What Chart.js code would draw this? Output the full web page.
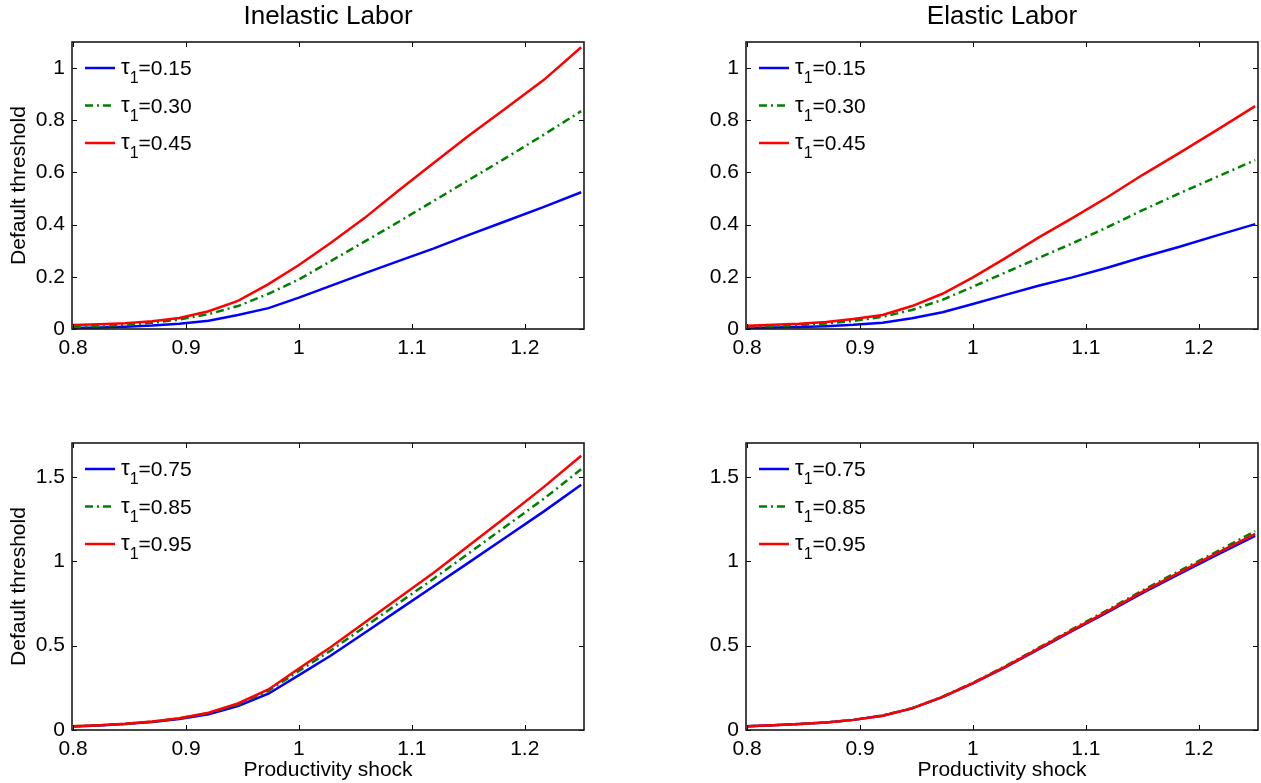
<!DOCTYPE html>
<html>
<head>
<meta charset="utf-8">
<script src="https://cdn.jsdelivr.net/npm/chart.js@4/dist/chart.umd.min.js"></script>
<style>
  body { margin: 0; background: #fff; width: 1261px; height: 783px; overflow: hidden; }
  canvas { position: absolute; }
</style>
</head>
<body>
<canvas id="tl" style="left:0;top:0;" width="587" height="370"></canvas>
<canvas id="tr" style="left:674px;top:0;" width="587" height="370"></canvas>
<canvas id="bl" style="left:0;top:401px;" width="587" height="382"></canvas>
<canvas id="br" style="left:674px;top:401px;" width="587" height="382"></canvas>
<script>
// productivity shock grid
const xGrid = [0.8, 0.823, 0.846, 0.870, 0.894, 0.920, 0.946, 0.973, 1.0, 1.028, 1.058, 1.088, 1.119, 1.150, 1.183, 1.217, 1.25];
const xTicks = [0.8, 0.9, 1, 1.1, 1.2];
const yTicksTop = [0, 0.2, 0.4, 0.6, 0.8, 1];
const yTicksBottom = [0, 0.5, 1, 1.5];

const labelsTop = ['0.15', '0.30', '0.45'];
const labelsBottom = ['0.75', '0.85', '0.95'];

// inelastic labor, low taxes
const inel015 = [0.004, 0.006, 0.009, 0.013, 0.020, 0.032, 0.054, 0.080, 0.120, 0.165, 0.213, 0.260, 0.308, 0.360, 0.413, 0.468, 0.524];
const inel030 = [0.008, 0.011, 0.016, 0.024, 0.036, 0.057, 0.088, 0.135, 0.190, 0.260, 0.335, 0.410, 0.490, 0.570, 0.655, 0.745, 0.835];
const inel045 = [0.015, 0.018, 0.022, 0.030, 0.042, 0.068, 0.108, 0.172, 0.245, 0.330, 0.425, 0.530, 0.635, 0.740, 0.845, 0.955, 1.080];
// elastic labor, low taxes
const el015 = [0.004, 0.006, 0.008, 0.011, 0.016, 0.024, 0.041, 0.064, 0.096, 0.130, 0.166, 0.198, 0.235, 0.275, 0.315, 0.360, 0.402];
const el030 = [0.008, 0.011, 0.015, 0.021, 0.031, 0.047, 0.073, 0.112, 0.162, 0.215, 0.272, 0.328, 0.390, 0.455, 0.520, 0.585, 0.647];
const el045 = [0.012, 0.016, 0.020, 0.027, 0.038, 0.054, 0.088, 0.135, 0.198, 0.270, 0.350, 0.425, 0.505, 0.590, 0.675, 0.765, 0.854];
// inelastic labor, high taxes
const inel075 = [0.021, 0.027, 0.035, 0.047, 0.065, 0.093, 0.142, 0.215, 0.325, 0.440, 0.575, 0.710, 0.850, 0.990, 1.140, 1.295, 1.453];
const inel085 = [0.022, 0.028, 0.036, 0.049, 0.068, 0.100, 0.150, 0.232, 0.350, 0.470, 0.610, 0.750, 0.895, 1.045, 1.205, 1.370, 1.545];
const inel095 = [0.022, 0.028, 0.037, 0.050, 0.069, 0.102, 0.157, 0.240, 0.364, 0.490, 0.635, 0.780, 0.930, 1.090, 1.260, 1.440, 1.624];
// elastic labor, high taxes
const el075 = [0.022, 0.028, 0.035, 0.045, 0.060, 0.085, 0.128, 0.195, 0.276, 0.370, 0.478, 0.587, 0.696, 0.810, 0.925, 1.040, 1.150];
const el085 = [0.022, 0.028, 0.035, 0.045, 0.060, 0.086, 0.129, 0.197, 0.280, 0.376, 0.486, 0.597, 0.710, 0.826, 0.943, 1.060, 1.178];
const el095 = [0.022, 0.028, 0.035, 0.045, 0.060, 0.085, 0.128, 0.196, 0.278, 0.373, 0.482, 0.592, 0.703, 0.818, 0.934, 1.050, 1.162];

const FONT = '"Liberation Sans", Arial, Helvetica, sans-serif';
const colors = ['#0000ff', '#008000', '#ff0000'];
const dashes = [[], [8, 4, 2, 4], []];

function toPoints(vals) {
    return vals.map((v, i) => ({ x: xGrid[i], y: v }));
}

// MATLAB-ish box with inward ticks, legend and title
const boxPlugin = {
    id: 'box',
    afterDatasetsDraw(chart) {
        const { ctx, chartArea: a, scales } = chart;
        const o = chart.options.plugins.box;
        ctx.save();
        ctx.strokeStyle = '#000';
        ctx.lineWidth = 1;
        ctx.beginPath();
        scales.x.ticks.forEach(t => {
            const px = Math.round(scales.x.getPixelForValue(t.value)) + 0.5;
            ctx.moveTo(px, a.bottom); ctx.lineTo(px, a.bottom - 5);
            ctx.moveTo(px, a.top); ctx.lineTo(px, a.top + 5);
        });
        scales.y.ticks.forEach(t => {
            const py = Math.round(scales.y.getPixelForValue(t.value)) + 0.5;
            ctx.moveTo(a.left, py); ctx.lineTo(a.left + 5, py);
            ctx.moveTo(a.right, py); ctx.lineTo(a.right - 5, py);
        });
        ctx.stroke();
        ctx.strokeStyle = '#1a1a1a';
        ctx.lineWidth = 1.6;
        ctx.strokeRect(a.left, a.top, a.right - a.left, a.bottom - a.top);

        // legend
        chart.data.datasets.forEach((ds, i) => {
            const y = a.top + 26 + i * 37.5;
            ctx.strokeStyle = ds.borderColor;
            ctx.lineWidth = 2.5;
            ctx.setLineDash(ds.borderDash || []);
            ctx.beginPath();
            ctx.moveTo(a.left + 13, y); ctx.lineTo(a.left + 43, y);
            ctx.stroke();
            ctx.setLineDash([]);
            ctx.fillStyle = '#000';
            ctx.textBaseline = 'alphabetic';
            ctx.textAlign = 'left';
            let x = a.left + 49;
            ctx.font = '22px ' + FONT;
            ctx.fillText('τ', x, y + 6);
            x += ctx.measureText('τ').width;
            ctx.font = '16px ' + FONT;
            ctx.fillText('1', x, y + 15);
            x += ctx.measureText('1').width;
            ctx.font = '21px ' + FONT;
            ctx.fillText('=' + ds.label, x, y + 7);
        });

        if (o.title) {
            ctx.font = '26px ' + FONT;
            ctx.textAlign = 'center';
            ctx.textBaseline = 'middle';
            ctx.fillText(o.title, (a.left + a.right) / 2, 17);
        }
        ctx.restore();
    }
};

function makePanel(id, series, labels, yMax, yTicks, title, yLabel, xLabel) {
    const canvas = document.getElementById(id);
    const xHeight = canvas.height - 329;
    return new Chart(canvas, {
        type: 'line',
        data: {
            datasets: series.map((s, i) => ({
                label: labels[i],
                data: toPoints(s),
                borderColor: colors[i],
                borderDash: dashes[i],
                borderWidth: 2.5,
                pointRadius: 0,
                tension: 0,
                fill: false,
                order: 3 - i
            }))
        },
        options: {
            responsive: false,
            animation: false,
            events: [],
            layout: { padding: { top: 42, right: 3, left: 0, bottom: 0 } },
            plugins: {
                legend: { display: false },
                tooltip: { enabled: false },
                box: { title: title }
            },
            scales: {
                x: {
                    type: 'linear',
                    min: 0.799,
                    max: 1.2525,
                    grid: { display: false, drawTicks: false },
                    border: { display: false },
                    afterBuildTicks: s => { s.ticks = xTicks.map(v => ({ value: v })); },
                    afterFit: s => { s.height = xHeight; },
                    ticks: {
                        padding: 7,
                        color: '#000',
                        font: { family: FONT, size: 21 },
                        callback: v => String(parseFloat(Number(v).toFixed(2)))
                    },
                    title: {
                        display: !!xLabel,
                        text: xLabel || '',
                        color: '#000',
                        font: { family: FONT, size: 21 },
                        padding: { top: 0, bottom: 0 }
                    }
                },
                y: {
                    type: 'linear',
                    min: 0,
                    max: yMax,
                    grid: { display: false, drawTicks: false },
                    border: { display: false },
                    afterBuildTicks: s => { s.ticks = yTicks.map(v => ({ value: v })); },
                    afterFit: s => { s.width = 72; },
                    ticks: {
                        padding: 7,
                        color: '#000',
                        font: { family: FONT, size: 21 },
                        callback: v => String(parseFloat(Number(v).toFixed(2)))
                    },
                    title: {
                        display: !!yLabel,
                        text: yLabel || '',
                        color: '#000',
                        font: { family: FONT, size: 21 },
                        padding: { top: 7, bottom: 0 }
                    }
                }
            }
        },
        plugins: [boxPlugin]
    });
}

makePanel('tl', [inel015, inel030, inel045], labelsTop, 1.1, yTicksTop, 'Inelastic Labor', 'Default threshold', null);
makePanel('tr', [el015, el030, el045], labelsTop, 1.1, yTicksTop, 'Elastic Labor', null, null);
makePanel('bl', [inel075, inel085, inel095], labelsBottom, 1.7, yTicksBottom, null, 'Default threshold', 'Productivity shock');
makePanel('br', [el075, el085, el095], labelsBottom, 1.7, yTicksBottom, null, null, 'Productivity shock');
</script>
</body>
</html>
